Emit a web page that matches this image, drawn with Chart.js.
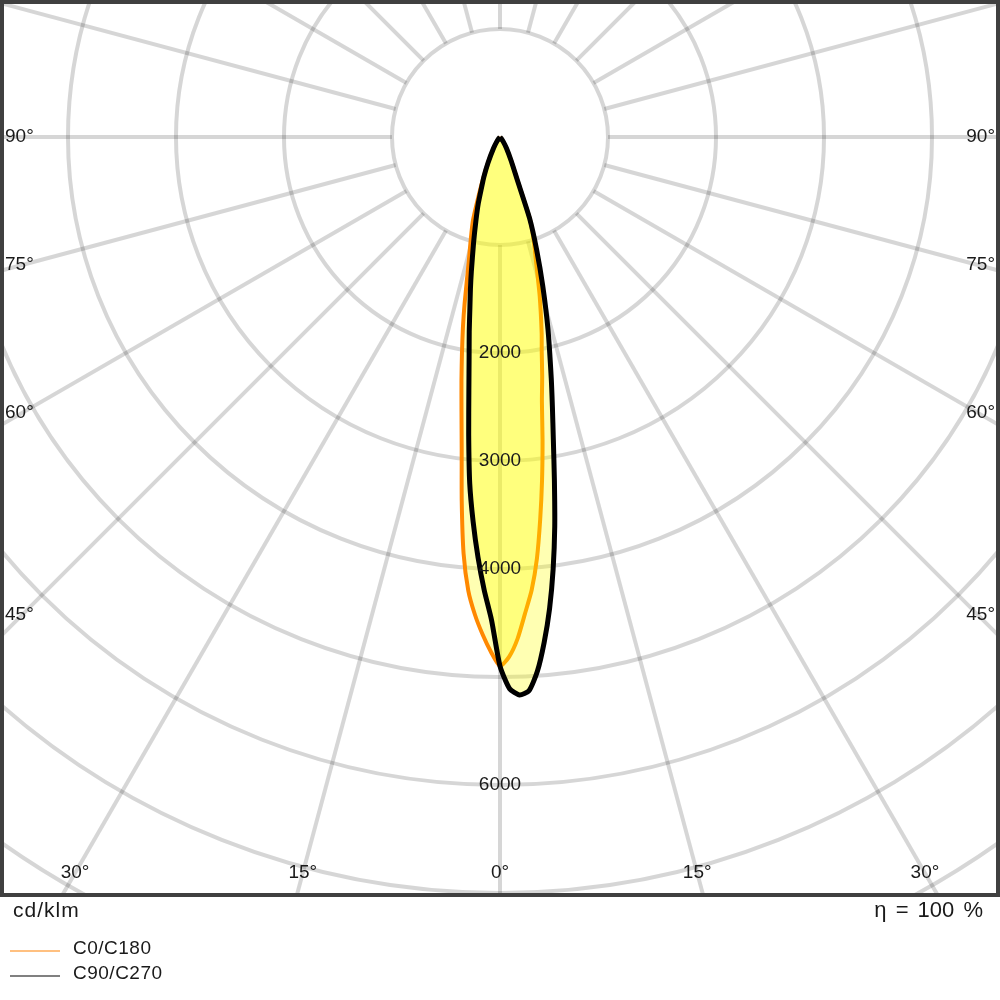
<!DOCTYPE html>
<html>
<head>
<meta charset="utf-8">
<script src="https://cdn.jsdelivr.net/npm/chart.js@4.4.1/dist/chart.umd.min.js"></script>
<style>
  body { margin: 0; background: #fff; }
  #wrap { position: relative; width: 1000px; height: 1000px; font-family: "Liberation Sans", Arial, sans-serif; color: #1a1a1a; }
  #wrap canvas { position: absolute; left: 0; top: 0; }
  .txt { position: absolute; white-space: nowrap; line-height: 24px; }
  .key { position: absolute; left: 10px; width: 50px; height: 2px; }
</style>
</head>
<body>
<div id="wrap">
  <canvas id="ldc"></canvas>
  <div class="txt" style="left:13px; top:898px; font-size:21px; letter-spacing:1px">cd/klm</div>
  <div class="txt" style="right:17px; top:898px; font-size:22px; word-spacing:3px">η = 100 %</div>
  <div class="key" style="top:950px; background:#ffc080"></div>
  <div class="txt" style="left:73px; top:936px; font-size:19px; letter-spacing:0.5px">C0/C180</div>
  <div class="key" style="top:975px; background:#808080"></div>
  <div class="txt" style="left:73px; top:961px; font-size:19px; letter-spacing:0.5px">C90/C270</div>
</div>
<script>
// gamma angles (deg from nadir) and intensities in cd/klm per C-plane
const GAMMA = [0, 1, 2, 3, 4, 5, 6, 7, 8, 9, 10, 11, 12, 14, 16, 18, 20, 22, 25, 30, 35, 40, 45, 90]
const C0 = [4900, 4815, 4650, 4420, 4205, 3920, 3560, 3196, 2831, 2480, 2250, 2025, 1855, 1520, 1217, 1012, 810, 430, 250, 120, 50, 15, 0, 0]
const C180 = [4900, 4770, 4610, 4430, 4210, 3870, 3390, 2910, 2562, 2281, 2028, 1800, 1577, 1200, 980, 808, 580, 420, 260, 120, 50, 15, 0, 0]
const C90 = [4900, 5110, 5170, 5135, 4960, 4696, 4391, 4035, 3642, 3220, 2844, 2542, 2282, 1837, 1437, 1096, 800, 420, 250, 120, 50, 15, 0, 0]
const C270 = [4900, 4475, 4197, 3896, 3570, 3218, 2773, 2365, 2055, 1821, 1605, 1435, 1277, 1012, 810, 654, 500, 400, 260, 120, 50, 15, 0, 0]

const RINGS = [1000, 2000, 3000, 4000, 5000, 6000, 7000, 8000, 9000]
const RING_LABELS = ["2000", "3000", "4000", "6000"]
const SPOKE_STEP = 15
const ANGLE_LABELS = [0, 15, 30, 45, 60, 75, 90]

// left half goes 90 -> 0, right half 0 -> 90
function curve(left, right) {
  const pts = []
  for (let i = GAMMA.length - 1; i >= 0; i--) {
    const g = GAMMA[i] * Math.PI / 180
    pts.push({ x: -left[i] * Math.sin(g), y: -left[i] * Math.cos(g) })
  }
  for (let i = 1; i < GAMMA.length; i++) {
    const g = GAMMA[i] * Math.PI / 180
    pts.push({ x: right[i] * Math.sin(g), y: -right[i] * Math.cos(g) })
  }
  return pts
}

const polarGrid = {
  id: "polarGrid",
  beforeDatasetsDraw(chart) {
    const { ctx, chartArea: a, scales: { x, y } } = chart
    const cx = x.getPixelForValue(0)
    const cy = y.getPixelForValue(0)
    const k = x.getPixelForValue(1) - cx
    ctx.save()
    ctx.beginPath()
    ctx.rect(a.left, a.top, a.right - a.left, a.bottom - a.top)
    ctx.clip()
    ctx.strokeStyle = "rgba(0,0,0,0.16)"
    ctx.lineWidth = 4
    RINGS.forEach((r) => {
      ctx.beginPath()
      ctx.arc(cx, cy, r * k, 0, Math.PI * 2)
      ctx.stroke()
    })
    const r0 = RINGS[0] * k
    const r1 = 12000 * k
    for (let d = 0; d < 360; d += SPOKE_STEP) {
      const t = d * Math.PI / 180
      ctx.beginPath()
      ctx.moveTo(cx + r0 * Math.sin(t), cy + r0 * Math.cos(t))
      ctx.lineTo(cx + r1 * Math.sin(t), cy + r1 * Math.cos(t))
      ctx.stroke()
    }
    ctx.restore()
  },
  afterDatasetsDraw(chart) {
    const { ctx, chartArea: a, scales: { x, y } } = chart
    const cx = x.getPixelForValue(0)
    const cy = y.getPixelForValue(0)
    const k = x.getPixelForValue(1) - cx
    ctx.save()
    ctx.fillStyle = "#1a1a1a"
    ctx.font = '19px "Liberation Sans", Arial, sans-serif'
    ctx.textBaseline = "middle"

    // intensity labels down the 0 deg axis
    ctx.textAlign = "center"
    RING_LABELS.forEach((v) => ctx.fillText(v, cx, cy + Number(v) * k))

    // angle labels where each spoke meets the frame
    const sideX = cx - (a.left + 20)
    const bottomY = a.bottom - 22
    ANGLE_LABELS.forEach((d) => {
      const t = d * Math.PI / 180
      const s = Math.sin(t), c = Math.cos(t)
      const tSide = s > 0 ? sideX / s : Infinity
      const tBot = c > 1e-6 ? (bottomY - cy) / c : Infinity
      const txt = d + "°"
      if (tBot <= tSide) {
        const off = (bottomY - cy) * Math.tan(t)
        ctx.textAlign = "center"
        ctx.fillText(txt, cx - off, bottomY)
        if (d !== 0) ctx.fillText(txt, cx + off, bottomY)
      } else {
        const ly = d === 90 ? cy : cy + sideX / Math.tan(t)
        ctx.textAlign = "left"
        ctx.fillText(txt, a.left + 3, ly)
        ctx.textAlign = "right"
        ctx.fillText(txt, a.right - 3, ly)
      }
    })

    // frame
    ctx.strokeStyle = "#404040"
    ctx.lineWidth = 4
    ctx.strokeRect(a.left, a.top, a.right - a.left, a.bottom - a.top)
    ctx.restore()
  }
}

const chart = new Chart(document.getElementById("ldc"), {
  type: "scatter",
  data: {
    datasets: [
      {
        label: "C0/C180",
        data: curve(C180, C0),
        showLine: true,
        tension: 0.2,
        borderColor: "#ff8800",
        borderWidth: 4,
        borderJoinStyle: "round",
        backgroundColor: "rgba(255,255,0,0.3)",
        fill: "shape",
        pointRadius: 0,
        order: 2
      },
      {
        label: "C90/C270",
        data: curve(C270, C90),
        showLine: true,
        tension: 0.2,
        borderColor: "#000000",
        borderWidth: 5,
        borderJoinStyle: "round",
        backgroundColor: "rgba(255,255,0,0.3)",
        fill: "shape",
        pointRadius: 0,
        order: 1
      }
    ]
  },
  options: {
    responsive: true,
    maintainAspectRatio: false,
    animation: false,
    layout: { padding: { left: 2, right: 2, top: 2, bottom: 105 } },
    scales: {
      x: { type: "linear", display: false, min: -4611, max: 4611 },
      y: { type: "linear", display: false, min: -7019, max: 1250 }
    },
    plugins: {
      legend: { display: false },
      tooltip: { enabled: false }
    }
  },
  plugins: [polarGrid]
})
</script>
</body>
</html>
